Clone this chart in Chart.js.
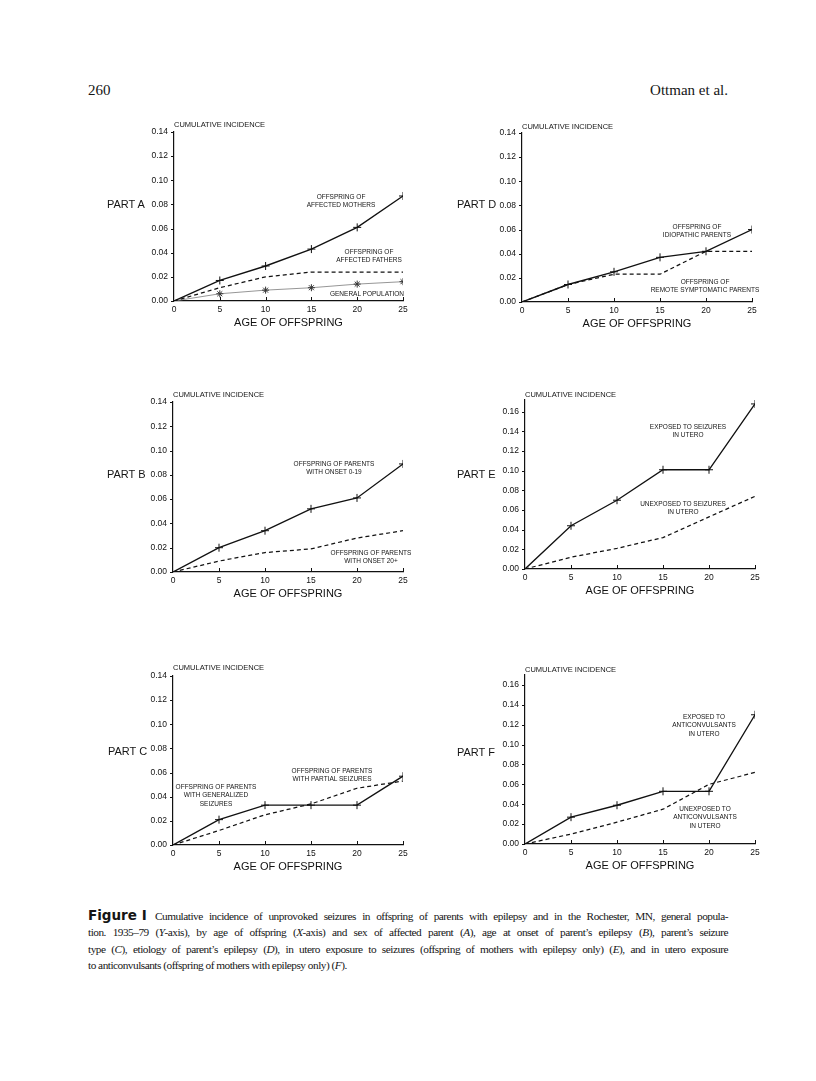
<!DOCTYPE html>
<html><head><meta charset="utf-8">
<script src="https://cdn.jsdelivr.net/npm/chart.js@4.4.1/dist/chart.umd.min.js"></script>
<style>
body{margin:0;background:#fff;width:816px;height:1081px;position:relative;overflow:hidden;font-family:"Liberation Sans",Arial,sans-serif;color:#151515}
canvas{position:absolute}
.hdr{position:absolute;font-family:"Liberation Serif",serif;font-size:15px;line-height:16px;white-space:nowrap}
.ann{position:absolute;font-size:6.5px;line-height:8.4px;text-align:center;transform:translateX(-50%);white-space:nowrap}
.part{position:absolute;font-size:11px;line-height:13px;white-space:nowrap}
.ci{position:absolute;font-size:7.5px;line-height:9px;white-space:nowrap}
#cap{position:absolute;left:88px;top:908px;width:640px;font-family:"Liberation Serif",serif;font-size:11.3px;line-height:16.3px;letter-spacing:-0.5px}
#cap .jl{text-align:justify;text-align-last:justify;white-space:nowrap}
#cap .last{text-align:left}
#cap .fig{position:absolute;left:0;top:-1px;font-family:"DejaVu Sans",sans-serif;font-weight:bold;font-size:13.5px;letter-spacing:0}
</style></head>
<body>
<div class="hdr" style="left:88px;top:82px">260</div>
<div class="hdr" style="right:88px;top:82px">Ottman et al.</div>

<canvas id="cA"></canvas><canvas id="cB"></canvas><canvas id="cC"></canvas>
<canvas id="cD"></canvas><canvas id="cE"></canvas><canvas id="cF"></canvas>

<div class="ci" style="left:174px;top:120px">CUMULATIVE INCIDENCE</div>
<div class="ci" style="left:522px;top:122px">CUMULATIVE INCIDENCE</div>
<div class="ci" style="left:173px;top:390px">CUMULATIVE INCIDENCE</div>
<div class="ci" style="left:525px;top:390px">CUMULATIVE INCIDENCE</div>
<div class="ci" style="left:173px;top:663px">CUMULATIVE INCIDENCE</div>
<div class="ci" style="left:525px;top:665px">CUMULATIVE INCIDENCE</div>

<div class="part" style="left:107px;top:198px">PART A</div>
<div class="part" style="left:457px;top:198px">PART D</div>
<div class="part" style="left:107px;top:468px">PART B</div>
<div class="part" style="left:457px;top:468px">PART E</div>
<div class="part" style="left:108px;top:745px">PART C</div>
<div class="part" style="left:457px;top:746px">PART F</div>

<div class="ann" style="left:341px;top:193px">OFFSPRING OF<br>AFFECTED MOTHERS</div>
<div class="ann" style="left:369px;top:248px">OFFSPRING OF<br>AFFECTED FATHERS</div>
<div class="ann" style="left:367px;top:290px">GENERAL POPULATION</div>
<div class="ann" style="left:697px;top:223px">OFFSPRING OF<br>IDIOPATHIC PARENTS</div>
<div class="ann" style="left:705px;top:278px">OFFSPRING OF<br>REMOTE SYMPTOMATIC PARENTS</div>
<div class="ann" style="left:334px;top:460px">OFFSPRING OF PARENTS<br>WITH ONSET 0-19</div>
<div class="ann" style="left:371px;top:549px">OFFSPRING OF PARENTS<br>WITH ONSET 20+</div>
<div class="ann" style="left:688px;top:423px">EXPOSED TO SEIZURES<br>IN UTERO</div>
<div class="ann" style="left:683px;top:500px">UNEXPOSED TO SEIZURES<br>IN UTERO</div>
<div class="ann" style="left:332px;top:767px">OFFSPRING OF PARENTS<br>WITH PARTIAL SEIZURES</div>
<div class="ann" style="left:216px;top:783px">OFFSPRING OF PARENTS<br>WITH GENERALIZED<br>SEIZURES</div>
<div class="ann" style="left:704px;top:713px">EXPOSED TO<br>ANTICONVULSANTS<br>IN UTERO</div>
<div class="ann" style="left:705px;top:805px">UNEXPOSED TO<br>ANTICONVULSANTS<br>IN UTERO</div>

<div id="cap">
<span class="fig">Figure I</span>
<div class="jl" style="padding-left:67px">Cumulative incidence of unprovoked seizures in offspring of parents with epilepsy and in the Rochester, MN, general popula-</div>
<div class="jl">tion. 1935–79 (<i>Y</i>-axis), by age of offspring (<i>X</i>-axis) and sex of affected parent (<i>A</i>), age at onset of parent’s epilepsy (<i>B</i>), parent’s seizure</div>
<div class="jl">type (<i>C</i>), etiology of parent’s epilepsy (<i>D</i>), in utero exposure to seizures (offspring of mothers with epilepsy only) (<i>E</i>), and in utero exposure</div>
<div class="last">to anticonvulsants (offspring of mothers with epilepsy only) (<i>F</i>).</div>
</div>

<script>
// ---- data ----
const ages = [0, 5, 10, 15, 20, 25];
const xTickLabels = ['0', '5', '10', '15', '20', '25'];
const yTickLabels014 = ['0.00', '0.02', '0.04', '0.06', '0.08', '0.10', '0.12', '0.14'];
const yTickLabels016 = ['0.00', '0.02', '0.04', '0.06', '0.08', '0.10', '0.12', '0.14', '0.16'];

const aMothers   = [0, 0.017, 0.029, 0.043, 0.061, 0.087];
const aFathers   = [0, 0.011, 0.020, 0.024, 0.024, 0.024];
const aGeneral   = [0, 0.006, 0.009, 0.011, 0.014, 0.016];

const bOnset0to19 = [0, 0.020, 0.034, 0.052, 0.061, 0.089];
const bOnset20up  = [0, 0.009, 0.016, 0.019, 0.028, 0.034];

const cGeneralized = [0, 0.021, 0.033, 0.033, 0.033, 0.057];
const cPartial     = [0, 0.012, 0.025, 0.034, 0.047, 0.053];

const dIdiopathic = [0, 0.0145, 0.025, 0.037, 0.042, 0.060];
const dRemote     = [0, 0.0145, 0.023, 0.023, 0.042, 0.042];

const eExposed   = [0, 0.044, 0.070, 0.101, 0.101, 0.168];
const eUnexposed = [0, 0.012, 0.021, 0.032, 0.053, 0.074];

const fExposed   = [0, 0.027, 0.039, 0.053, 0.053, 0.130];
const fUnexposed = [0, 0.010, 0.022, 0.035, 0.060, 0.072];

// ---- styles ----
const INK = '#111';
const noFirst = r => c => (c.dataIndex === 0 ? 0 : r);
const SOLID = {borderColor: INK, borderWidth: 1.35, pointStyle: 'cross', pointRadius: noFirst(4),
  pointBorderColor: INK, pointBorderWidth: 1, tension: 0, fill: false};
const DASHED = {borderColor: INK, borderWidth: 1.25, borderDash: [4, 3], pointRadius: 0, tension: 0, fill: false};
const GRAY = {borderColor: '#8a8a8a', borderWidth: 0.9, pointStyle: 'star', pointRadius: noFirst(3.5),
  pointBorderColor: '#333', pointBorderWidth: 1, tension: 0, fill: false};

function series(vals, style, order) {
  return Object.assign({data: ages.map((a, i) => ({x: a, y: vals[i]})), order: order}, style);
}

const tickMarks = {
  id: 'tickMarks',
  afterDraw(chart) {
    const {ctx, chartArea: a, scales: {x, y}} = chart;
    ctx.save();
    ctx.strokeStyle = INK; ctx.lineWidth = 1;
    ctx.beginPath();
    x.ticks.forEach(t => {
      if (t.value === 0) return;
      const px = Math.round(x.getPixelForValue(t.value)) + 0.5;
      ctx.moveTo(px, a.bottom); ctx.lineTo(px, a.bottom - 4);
    });
    y.ticks.forEach(t => {
      const py = Math.round(y.getPixelForValue(t.value)) + 0.5;
      ctx.moveTo(a.left, py); ctx.lineTo(a.left - 3, py);
    });
    ctx.stroke();
    ctx.restore();
  }
};

const PL = 50, PR = 16, PT = 14, XH = 29;
const tickFont = {family: 'Liberation Sans', size: 8.5};

function makePanel(id, box, yMax, yLabels, datasets) {
  const cv = document.getElementById(id);
  const w = (box.x25 - box.x0) + PL + PR;
  const h = (box.yb - box.yt) + PT + XH;
  cv.width = w; cv.height = h;
  cv.style.width = w + 'px'; cv.style.height = h + 'px';
  cv.style.left = (box.x0 - PL) + 'px';
  cv.style.top = (box.yt - PT) + 'px';
  new Chart(cv, {
    type: 'line',
    data: {datasets: datasets},
    options: {
      responsive: false, animation: false, devicePixelRatio: 1,
      layout: {padding: {left: 10, right: PR, top: PT, bottom: 0}},
      plugins: {legend: {display: false}, tooltip: {enabled: false}},
      scales: {
        x: {
          type: 'linear', min: 0, max: 25,
          ticks: {stepSize: 5, padding: 4, font: tickFont, color: INK, maxRotation: 0,
            callback: (v, i) => xTickLabels[i] ?? ''},
          grid: {display: false, drawTicks: false},
          border: {color: INK, width: 1.2},
          title: {display: true, text: 'AGE OF OFFSPRING', color: INK, padding: 0,
            font: {family: 'Liberation Sans', size: 11, lineHeight: 1.2}},
          afterFit(s) { s.height = XH; }
        },
        y: {
          type: 'linear', min: 0, max: yMax,
          ticks: {stepSize: 0.02, includeBounds: false, padding: 6, font: tickFont, color: INK,
            callback: (v, i) => yLabels[i] ?? ''},
          grid: {display: false, drawTicks: false},
          border: {color: INK, width: 1.2},
          afterFit(s) { s.width = PL - 10; }
        }
      }
    },
    plugins: [tickMarks]
  });
}

makePanel('cA', {x0: 174, x25: 403, yt: 132, yb: 301}, 0.14, yTickLabels014, [
  series(aMothers, SOLID, 0), series(aFathers, DASHED, 1), series(aGeneral, GRAY, 2)]);
makePanel('cB', {x0: 173, x25: 403, yt: 402, yb: 572}, 0.14, yTickLabels014, [
  series(bOnset0to19, SOLID, 0), series(bOnset20up, DASHED, 1)]);
makePanel('cC', {x0: 173, x25: 403, yt: 676, yb: 845}, 0.14, yTickLabels014, [
  series(cGeneralized, SOLID, 0), series(cPartial, DASHED, 1)]);
makePanel('cD', {x0: 522, x25: 752, yt: 133, yb: 302}, 0.14, yTickLabels014, [
  series(dIdiopathic, SOLID, 0), series(dRemote, DASHED, 1)]);
makePanel('cE', {x0: 525, x25: 755, yt: 400, yb: 569}, 0.172, yTickLabels016, [
  series(eExposed, SOLID, 0), series(eUnexposed, DASHED, 1)]);
makePanel('cF', {x0: 525, x25: 755, yt: 675, yb: 844}, 0.170, yTickLabels016, [
  series(fExposed, SOLID, 0), series(fUnexposed, DASHED, 1)]);
</script>
</body></html>
